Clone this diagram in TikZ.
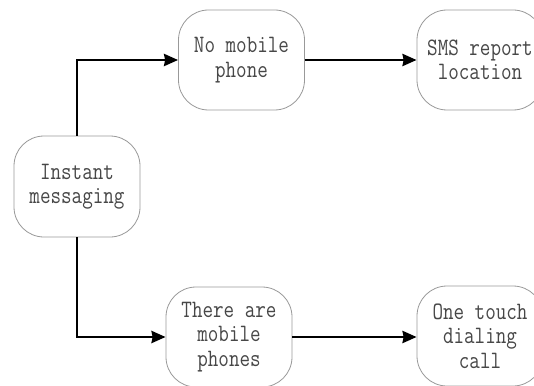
\documentclass[tikz,border=0pt]{standalone}
\usepackage{fontspec}
\setmonofont[FakeStretch=0.82]{Latin Modern Mono}
\usetikzlibrary{arrows.meta}
\begin{document}
\begin{tikzpicture}[x=1pt,y=1pt,
  stage/.style={draw=black!40, line width=0.8pt, rounded corners=30pt,
    minimum width=126pt, minimum height=100pt, inner sep=0pt,
    align=center, text=black!72,
    font=\ttfamily\fontsize{25}{24.5}\selectfont},
  flow/.style={line width=2.8pt, -{Stealth[length=14pt,width=12pt,inset=1pt]}}]
\useasboundingbox (0,0) rectangle (534,-385);
\fill[white] (0,0) rectangle (534,-385);

\node[stage, minimum height=101pt] (im) at (77,-186.5) {Instant\\messaging};
\node[stage] (nm) at (241.5,-60) {No mobile\\phone};
\node[stage] (sms) at (480,-60) {SMS report\\location};
\node[stage] (tm) at (229,-337) {There are\\mobile\\phones};
\node[stage] (ot) at (480,-336) {One touch\\dialing\\call};

\draw[flow] (im.north) |- (nm.west);
\draw[flow] (im.south) |- (tm.west);
\draw[flow] (nm.east) -- (sms.west);
\draw[flow] (tm.east) -- (tm.east -| ot.west);
\end{tikzpicture}
\end{document}
